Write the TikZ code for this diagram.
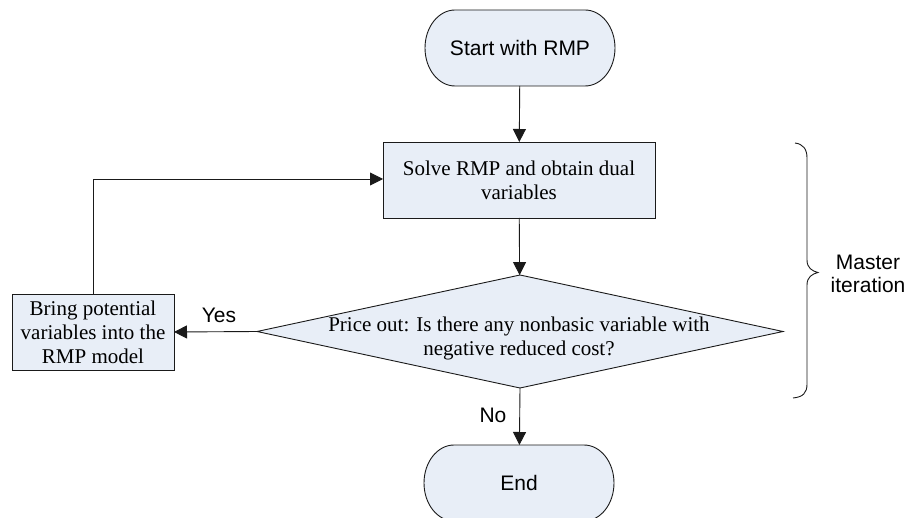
\documentclass[tikz,border=0pt]{standalone}
\usepackage{fontspec}
\setmainfont{Liberation Serif}
\setsansfont{Liberation Sans}
\usetikzlibrary{shapes.geometric,arrows.meta,backgrounds}
\definecolor{boxfill}{HTML}{E8EEF7}
\definecolor{edge}{HTML}{1A1A1A}
\begin{document}
\begin{tikzpicture}[x=1pt,y=-1pt,
  every node/.style={inner sep=0pt, outer sep=0pt},
  shapefill/.style={draw=edge, fill=boxfill, line width=0.9pt},
  terminal/.style={rectangle, minimum width=190pt, minimum height=76pt,
    font=\fontsize{21}{24}\selectfont\sffamily},
  process/.style={shapefill, rectangle, align=center,
    font=\fontsize{21}{24}\selectfont},
  decision/.style={shapefill, diamond, minimum width=526pt, minimum height=113pt},
  serif/.style={align=center, font=\fontsize{21}{24}\selectfont},
  lbl/.style={font=\fontsize{21}{24}\selectfont\sffamily},
  flow/.style={-{Triangle[length=13pt,width=13pt]}, line width=0.9pt, draw=edge},
]
\useasboundingbox (0,0) rectangle (912,518);

% outline of a terminal node: straight top and bottom, half-ellipse ends
\newcommand\terminaloutline[1]{%
  \begin{scope}[on background layer]
    \draw[shapefill]
      ([xshift=30pt]#1.north west) -- ([xshift=-30pt]#1.north east)
      arc[start angle=90, end angle=-90, x radius=30pt, y radius=38pt]
      -- ([xshift=30pt]#1.south west)
      arc[start angle=270, end angle=90, x radius=30pt, y radius=38pt]
      -- cycle;
  \end{scope}}

% flow chart nodes
\node[terminal] (start) at (520,48) {Start with RMP};
\terminaloutline{start}
\node[process, minimum width=272pt, minimum height=76pt] (solve) at (519,180)
  {Solve RMP and obtain dual\\variables};
\node[decision] (price) at (520,331.5) {};
\node[serif] (pricetext) at (519,338)
  {Price out: Is there any nonbasic variable with\\negative reduced cost?};
\node[process, minimum width=162pt, minimum height=76pt] (bring) at (93,332)
  {Bring potential\\variables into the\\RMP model};
\node[terminal] (end) at (519,483) {End};
\terminaloutline{end}

% connectors
\draw[flow] (start) -- (solve);
\draw[flow] (solve) -- (price);
\draw[flow] (price.south) -- (end);
\draw[flow] (price.west) -- (bring.east);
\draw[flow] (bring.north) |- ([yshift=1pt]solve.west);

% branch labels
\node[lbl] (yes) at (219,315) {Yes};
\node[lbl] (no) at (493,415) {No};

% brace around the master iteration
\draw[line width=0.9pt, draw=edge]
  (795,143) .. controls (803,144) and (807,149) .. (807,158)
  -- (807,260) .. controls (807,268) and (812,271) .. (818,272.5)
  .. controls (812,274) and (807,277) .. (807,285)
  -- (807,384) .. controls (807,393) and (803,397) .. (793,398);
\node[align=center, font=\fontsize{21}{23}\selectfont\sffamily] (master) at (868,274)
  {Master\\iteration};
\end{tikzpicture}
\end{document}
